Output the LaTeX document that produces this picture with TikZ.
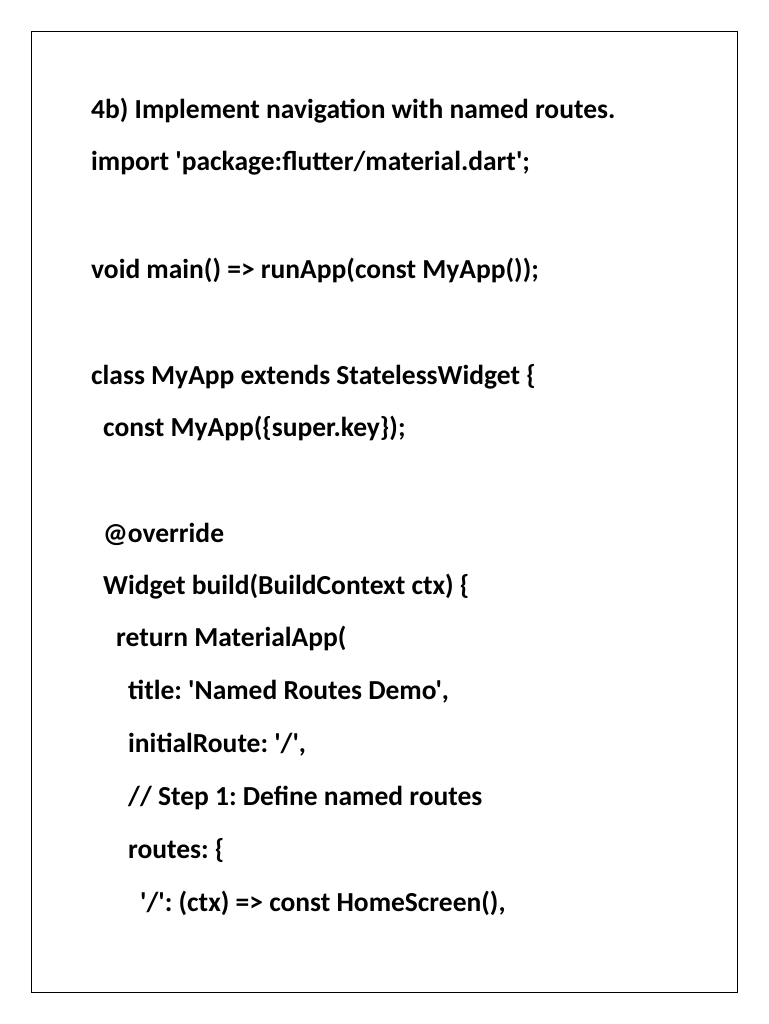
\documentclass[tikz,border=0pt]{standalone}
\usepackage{fontspec}
\setmainfont{Carlito}[Ligatures=TeXOff]
\frenchspacing
\begin{document}
\begin{tikzpicture}[x=1pt,y=-1pt,
  code/.style={anchor=base west,inner sep=0pt,font=\fontsize{27.5}{32}\selectfont\bfseries\frenchspacing}]
\useasboundingbox (0,0) rectangle (768,1024);
\fill[white] (0,0) rectangle (768,1024);
\draw[line width=0.8pt] (31,31) rectangle (737,992);
\node[code] (l1) at (91,119) {4b) Implement navigation with named routes.};
\node[code] (l2) at (91,171) {import 'package:flutter/material.dart';};
\node[code] (l3) at (91,278) {void main() => runApp(const MyApp());};
\node[code] (l4) at (91,384) {class MyApp extends StatelessWidget \{};
\node[code] (l5) at (103,436) {const MyApp(\{super.key\});};
\node[code] (l6) at (103,542) {@override};
\node[code] (l7) at (103,594) {Widget build(BuildContext ctx) \{};
\node[code] (l8) at (116,646) {return MaterialApp(};
\node[code] (l9) at (128,699) {title: 'Named Routes Demo',};
\node[code] (l10) at (128,752) {initialRoute: '/',};
\node[code] (l11) at (128,805) {// Step 1: Define named routes};
\node[code] (l12) at (128,858) {routes: \{};
\node[code] (l13) at (140,911) {'/': (ctx) => const HomeScreen(),};
\end{tikzpicture}
\end{document}
